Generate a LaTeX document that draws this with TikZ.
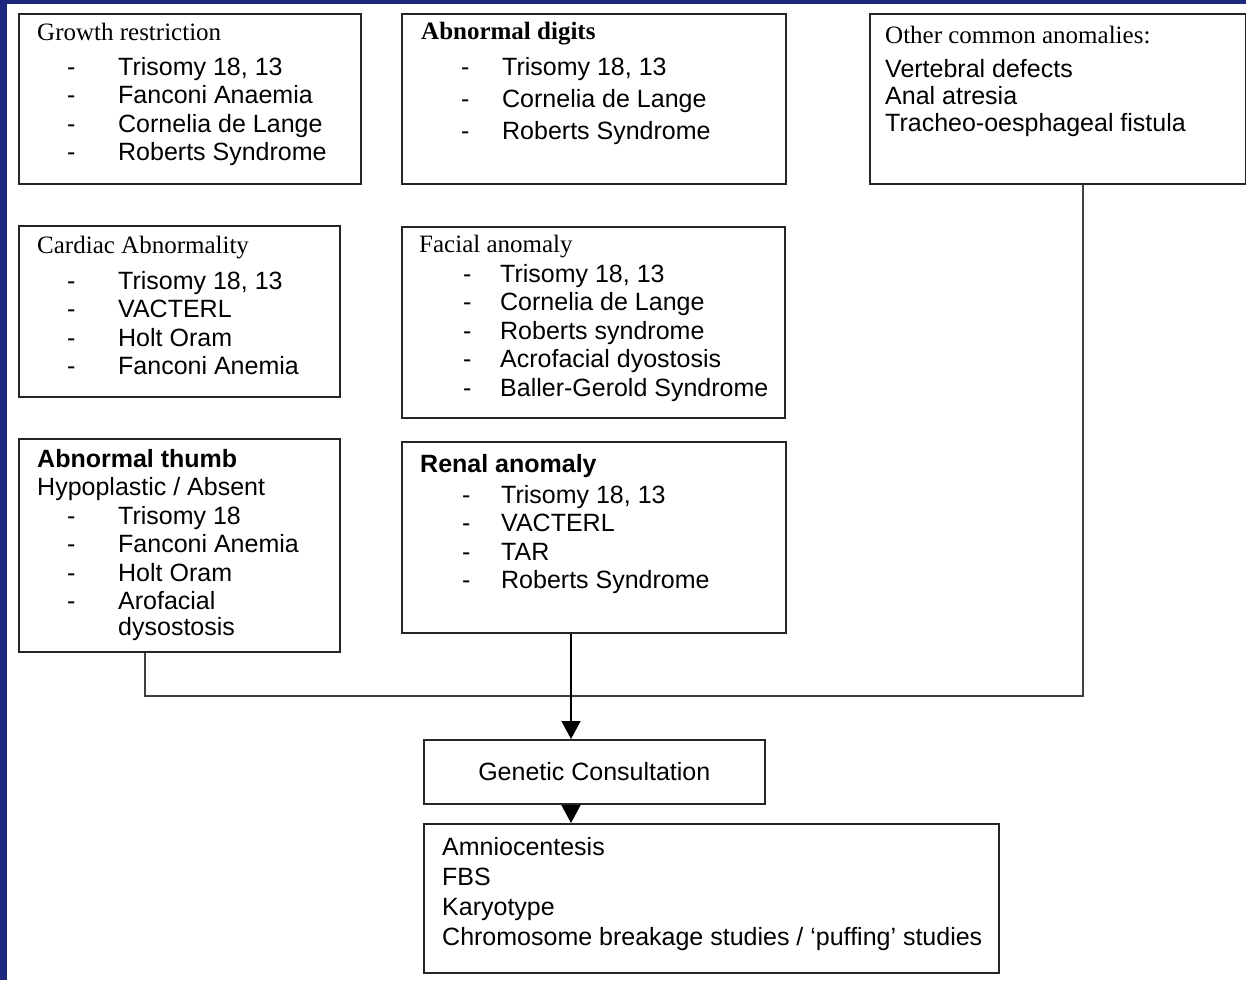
\documentclass[tikz,border=0pt]{standalone}
\usepackage{fontspec}
\setmainfont{Liberation Sans}
\newfontfamily\serifttl{Liberation Serif}
\usetikzlibrary{arrows.meta, positioning}
\definecolor{slideblue}{RGB}{27, 40, 125}

\newcommand{\ttl}[1]{\rule{0pt}{20pt}{#1}}
\newcommand{\itm}[2][30pt]{\makebox[81pt][l]{\hspace*{#1}-}#2}

\begin{document}
\begin{tikzpicture}[x=1pt, y=-1pt,
    font={\fontsize{25}{28.5}\selectfont},
    panel/.style={draw=black!85, line width=1.6pt, fill=white, inner sep=0pt, anchor=north west},
    txt/.style={anchor=north west, inner sep=0pt, align=left},
    link/.style={draw=black!75, line width=1.3pt},
    feed/.style={draw=black, line width=1.4pt, -{Triangle[width=19pt, length=18pt]}}]
    % Slide background
    \useasboundingbox (0,0) rectangle (1246,980);
    \fill[white] (0,0) rectangle (1246,980);
    \fill[slideblue] (0,0) rectangle (1246,4);
    \fill[slideblue] (0,0) rectangle (7,980);
    % Top row
    \node[panel, minimum width=342, minimum height=170] (growth) at (18,13) {};
    \node[panel, minimum width=384, minimum height=170] (digits) at (401,13) {};
    \node[panel, minimum width=376, minimum height=170] (other) at (869,13) {};
    % Middle row
    \node[panel, minimum width=321, minimum height=171] (cardiac) at (18,225) {};
    \node[panel, minimum width=383, minimum height=191] (facial) at (401,226) {};
    % Bottom row
    \node[panel, minimum width=321, minimum height=213] (thumb) at (18,438) {};
    \node[panel, minimum width=384, minimum height=191] (renal) at (401,441) {};
    % Referral and tests
    \node[panel, minimum width=341, minimum height=64] (genetic) at (423,739) {Genetic Consultation};
    \node[panel, minimum width=575, minimum height=149] (tests) at (423,823) {};
    % Box texts
    \node[txt] (growth-list) at (37,20) {\ttl{\serifttl Growth restriction}\\[6.5pt]
        \itm{Trisomy 18, 13}\\ \itm{Fanconi Anaemia}\\ \itm{Cornelia de Lange}\\ \itm{Roberts Syndrome}};
    \node[txt, font={\fontsize{25}{32}\selectfont}] (digits-list) at (421,19) {\ttl{\serifttl\bfseries Abnormal digits}\\[4pt]
        \itm[40pt]{Trisomy 18, 13}\\ \itm[40pt]{Cornelia de Lange}\\ \itm[40pt]{Roberts Syndrome}};
    \node[txt, font={\fontsize{25}{27}\selectfont}] (other-list) at (885,23) {\ttl{\serifttl Other common anomalies:}\\[7pt]
        Vertebral defects\\ Anal atresia\\ Tracheo-oesphageal fistula};
    \node[txt] (cardiac-list) at (37,233) {\ttl{\serifttl Cardiac Abnormality}\\[7.5pt]
        \itm{Trisomy 18, 13}\\ \itm{VACTERL}\\ \itm{Holt Oram}\\ \itm{Fanconi Anemia}};
    \node[txt] (facial-list) at (419,232) {\ttl{\serifttl Facial anomaly}\\[1.5pt]
        \itm[44pt]{Trisomy 18, 13}\\ \itm[44pt]{Cornelia de Lange}\\ \itm[44pt]{Roberts syndrome}\\
        \itm[44pt]{Acrofacial dyostosis}\\ \itm[44pt]{Baller-Gerold Syndrome}};
    \node[txt] (thumb-list) at (37,447) {\ttl{\bfseries Abnormal thumb}\\ Hypoplastic / Absent\\
        \itm{Trisomy 18}\\ \itm{Fanconi Anemia}\\ \itm{Holt Oram}\\ \itm{Arofacial}\\[-2.5pt]
        \hspace*{81pt}dysostosis};
    \node[txt] (renal-list) at (420,452) {\ttl{\bfseries Renal anomaly}\\[2.5pt]
        \itm[42pt]{Trisomy 18, 13}\\ \itm[42pt]{VACTERL}\\ \itm[42pt]{TAR}\\ \itm[42pt]{Roberts Syndrome}};
    \node[txt, font={\fontsize{25}{30}\selectfont}] (tests-list) at (442,835) {\ttl{Amniocentesis}\\ FBS\\ Karyotype\\
        Chromosome breakage studies / ‘puffing’ studies};
    % Connectors
    \coordinate (lft) at (145,696);
    \coordinate (rgt) at (1083,696);
    \coordinate (mid) at (571,696);
    \draw[link] (thumb.south -| lft) -- (lft) -- (rgt) -- (other.south -| rgt);
    \draw[feed] (renal.south -| mid) -- (genetic.north -| mid);
    \draw[feed] (genetic.south -| mid) -- (tests.north -| mid);
\end{tikzpicture}
\end{document}
